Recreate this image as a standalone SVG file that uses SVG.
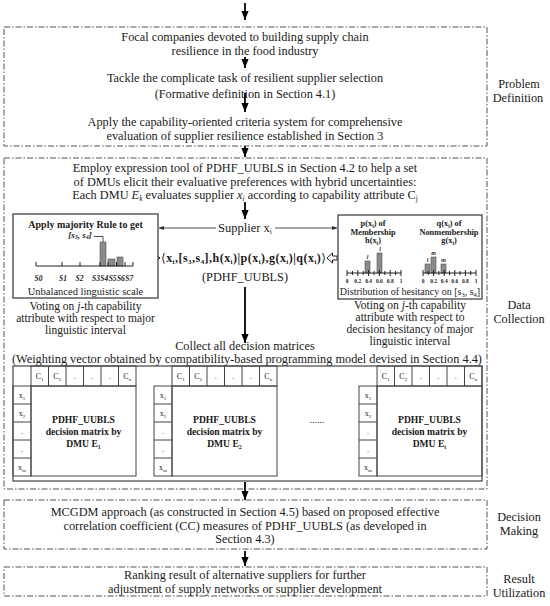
<svg xmlns="http://www.w3.org/2000/svg" width="550" height="606" viewBox="0 0 550 606">
<style>
text { font-family: "Liberation Serif", "DejaVu Serif", serif; fill: #1a1a1a; }
.m { font-size: 12.3px; text-anchor: middle; }
.lab { font-size: 12.3px; text-anchor: middle; }
.dd { fill: none; stroke: #555; stroke-width: 1; stroke-dasharray: 6 2 1.5 2; }
.bx { fill: #fff; stroke: #444; stroke-width: 1.3; }
.cell { fill: none; stroke: #444; stroke-width: 1; }
.bar { fill: #8a8a8a; stroke: #555; stroke-width: 0.6; }
.ar { stroke: #000; stroke-width: 1.8; fill: none; marker-end: url(#ah); }
.thin { stroke: #222; stroke-width: 0.8; fill: none; }
.ax { stroke: #222; stroke-width: 1; fill: none; }
.b10 { font-size: 10px; font-weight: bold; text-anchor: middle; }
.b8 { font-size: 8.3px; font-weight: bold; text-anchor: middle; }
.tk { font-size: 5.5px; font-weight: bold; text-anchor: middle; }
.sl { font-size: 7.5px; font-weight: bold; font-style: italic; text-anchor: middle; }
.hl { font-size: 6px; font-style: italic; font-weight: bold; text-anchor: middle; }
.s10 { font-size: 10px; text-anchor: middle; }
.v { font-size: 11.5px; text-anchor: middle; }
.ch { font-size: 8px; text-anchor: middle; }
.mb { font-size: 9.6px; font-weight: bold; text-anchor: middle; }
</style>
<defs>
<marker id="ah" viewBox="0 0 10 8" refX="10" refY="4" markerWidth="5" markerHeight="4" orient="auto" markerUnits="strokeWidth">
<path d="M0,0 L10,4 L0,8 z" fill="#000"/>
</marker>
<marker id="sh" viewBox="0 0 10 8" refX="10" refY="4" markerWidth="6" markerHeight="5" orient="auto" markerUnits="strokeWidth">
<path d="M0,0 L10,4 L0,8 z" fill="#222"/>
</marker>
</defs>

<g id="connectors">
<line class="ar" x1="245" y1="3" x2="245" y2="20"/>
<line class="ar" x1="245" y1="57" x2="245" y2="68"/>
<line class="ar" x1="245" y1="93" x2="245" y2="112"/>
<line class="ar" x1="245" y1="146" x2="245" y2="157"/>
<line class="ar" x1="245" y1="202" x2="245" y2="219"/>
<line class="ar" x1="245" y1="287" x2="245" y2="343"/>
<line class="ar" x1="245" y1="482" x2="245" y2="500"/>
<line class="ar" x1="245" y1="551" x2="245" y2="566"/>
<line class="thin" x1="216" y1="228" x2="159" y2="228" marker-end="url(#sh)"/>
<line class="thin" x1="275" y1="228" x2="337" y2="228" marker-end="url(#sh)"/>
<path d="M150,256 H154.5 V253 L160,258 L154.5,263 V260 H150 Z" fill="#fff" stroke="#222" stroke-width="1"/>
<path d="M337,256 H332.5 V253 L327,258 L332.5,263 V260 H337 Z" fill="#fff" stroke="#222" stroke-width="1"/>
</g>

<g id="problem-definition">
<rect class="dd" x="4" y="27" width="483" height="119"/>
<text class="m" x="245" y="41">Focal companies devoted to building supply chain</text>
<text class="m" x="245" y="54.5">resilience in the food industry</text>
<text class="m" x="245" y="82">Tackle the complicate task of resilient supplier selection</text>
<text class="m" x="245" y="98">(Formative definition in Section 4.1)</text>
<text class="m" x="245" y="126">Apply the capability-oriented criteria system for comprehensive</text>
<text class="m" x="245" y="140">evaluation of supplier resilience established in Section 3</text>
<text class="lab" x="519" y="88">Problem</text>
<text class="lab" x="518" y="102">Definition</text>
</g>

<g id="data-collection">
<rect class="dd" x="4" y="158" width="483" height="331"/>
<text class="m" x="245" y="172">Employ expression tool of PDHF_UUBLS in Section 4.2 to help a set</text>
<text class="m" x="245" y="185.5">of DMUs elicit their evaluative preferences with hybrid uncertainties:</text>
<text class="m" x="245" y="199">Each DMU <tspan font-style="italic">E</tspan><tspan font-size="7.5" font-style="italic" dy="2">k</tspan><tspan dy="-2"> evaluates supplier </tspan><tspan font-style="italic">x</tspan><tspan font-size="7.5" font-style="italic" dy="2">i</tspan><tspan dy="-2"> according to capability attribute C</tspan><tspan font-size="7.5" dy="2">j</tspan></text>
<text x="245" y="232" font-size="12.5" text-anchor="middle">Supplier x<tspan font-size="7.5" dy="2">i</tspan></text>
<text x="161" y="262" font-size="12" font-weight="bold" textLength="165" lengthAdjust="spacing"><tspan font-family="DejaVu Serif" font-weight="normal">⟨</tspan>x<tspan font-size="7" dy="2">i</tspan><tspan dy="-2">,[s</tspan><tspan font-size="7" dy="2">3</tspan><tspan dy="-2">,s</tspan><tspan font-size="7" dy="2">4</tspan><tspan dy="-2">],h(x</tspan><tspan font-size="7" dy="2">i</tspan><tspan dy="-2">)|p(x</tspan><tspan font-size="7" dy="2">i</tspan><tspan dy="-2">),g(x</tspan><tspan font-size="7" dy="2">i</tspan><tspan dy="-2">)|q(x</tspan><tspan font-size="7" dy="2">i</tspan><tspan dy="-2">)</tspan><tspan font-family="DejaVu Serif" font-weight="normal">⟩</tspan></text>
<text class="m" x="245" y="281">(PDHF_UUBLS)</text>
<text class="m" x="245" y="350">Collect all decision matrices</text>
<text class="m" x="247" y="363">(Weighting vector obtained by compatibility-based programming model devised in Section 4.4)</text>
<text class="lab" x="519" y="309">Data</text>
<text class="lab" x="519" y="323">Collection</text>
</g>

<g id="linguistic-scale">
<rect class="bx" x="13" y="214" width="145" height="84"/>
<text class="b10" x="85.5" y="228">Apply majority Rule to get</text>
<text x="80" y="237.5" font-size="9" font-weight="bold" font-style="italic" text-anchor="middle">[s<tspan font-size="6" dy="1.5">3</tspan><tspan dy="-1.5">, s</tspan><tspan font-size="6" dy="1.5">4</tspan><tspan dy="-1.5">]</tspan></text>
<path class="thin" d="M94,236.5 H103 V242"/>
<rect class="bar" x="100" y="242" width="6" height="24"/>
<rect class="bar" x="108" y="259" width="7" height="7"/>
<rect class="bar" x="117" y="257" width="6" height="9"/>
<path class="ax" d="M36,266 H133 M36,262 V266 M62,262 V266 M80,262 V266 M100,262 V266 M108,262 V266 M116.5,262 V266 M125,262 V266 M133,262 V266"/>
<text class="sl" x="38.5" y="281">S0</text>
<text class="sl" x="63" y="281">S1</text>
<text class="sl" x="79.5" y="281">S2</text>
<text class="sl" x="96" y="281">S3</text>
<text class="sl" x="104.3" y="281">S4</text>
<text class="sl" x="112.6" y="281">S5</text>
<text class="sl" x="120.9" y="281">S6</text>
<text class="sl" x="129.2" y="281">S7</text>
<text x="85.5" y="295" font-size="10.5" text-anchor="middle">Unbalanced linguistic scale</text>
<text class="v" x="85.5" y="310">Voting on <tspan font-style="italic">j</tspan>-th capability</text>
<text class="v" x="85.5" y="322">attribute with respect to major</text>
<text class="v" x="85.5" y="334">linguistic interval</text>
</g>

<g id="hesitancy">
<rect class="bx" x="338" y="215" width="144" height="84"/>
<text class="b8" x="373" y="226">p(x<tspan font-size="5.5" dy="1.5">i</tspan><tspan dy="-1.5">) of</tspan></text>
<text class="b8" x="373" y="234.5">Membership</text>
<text class="b8" x="373" y="243">h(x<tspan font-size="5.5" dy="1.5">i</tspan><tspan dy="-1.5">)</tspan></text>
<text class="b8" x="449" y="226">q(x<tspan font-size="5.5" dy="1.5">i</tspan><tspan dy="-1.5">) of</tspan></text>
<text class="b8" x="449" y="234.5">Nonmembership</text>
<text class="b8" x="449" y="243">g(x<tspan font-size="5.5" dy="1.5">i</tspan><tspan dy="-1.5">)</tspan></text>
<rect class="bar" x="365" y="261" width="5" height="12"/>
<rect class="bar" x="377" y="253" width="5" height="20"/>
<text class="hl" x="367.5" y="259">l</text>
<text class="hl" x="380" y="251">l</text>
<rect class="bar" x="425" y="264" width="5" height="9"/>
<rect class="bar" x="431" y="257" width="5" height="16"/>
<rect class="bar" x="441" y="264" width="5" height="9"/>
<text class="hl" x="427.5" y="262">l</text>
<text class="hl" x="433.5" y="255">m</text>
<text class="hl" x="443.5" y="262">m</text>
<path class="ax" d="M347,273 H401 M347,270 V276 M352.4,271 V275 M357.8,270 V276 M363.2,271 V275 M368.6,270 V276 M374,271 V275 M379.4,270 V276 M384.8,271 V275 M390.2,270 V276 M395.6,271 V275 M401,270 V276"/>
<path class="ax" d="M423,273 H476 M423,270 V276 M428.3,271 V275 M433.6,270 V276 M438.9,271 V275 M444.2,270 V276 M449.5,271 V275 M454.8,270 V276 M460.1,271 V275 M465.4,270 V276 M470.7,271 V275 M476,270 V276"/>
<text class="tk" x="347" y="283">0</text>
<text class="tk" x="357.8" y="283">0.2</text>
<text class="tk" x="368.6" y="283">0.4</text>
<text class="tk" x="379.4" y="283">0.6</text>
<text class="tk" x="390.2" y="283">0.8</text>
<text class="tk" x="401" y="283">1</text>
<text class="tk" x="423" y="283">0</text>
<text class="tk" x="433.6" y="283">0.2</text>
<text class="tk" x="444.2" y="283">0.4</text>
<text class="tk" x="454.8" y="283">0.6</text>
<text class="tk" x="465.4" y="283">0.8</text>
<text class="tk" x="476" y="283">1</text>
<text class="s10" x="410" y="295">Distribution of hesitancy on [s<tspan font-size="6.5" dy="1.5">3</tspan><tspan dy="-1.5">, s</tspan><tspan font-size="6.5" dy="1.5">4</tspan><tspan dy="-1.5">]</tspan></text>
<text class="v" x="410" y="309">Voting on <tspan font-style="italic">j</tspan>-th capability</text>
<text class="v" x="410" y="321">attribute with respect to</text>
<text class="v" x="410" y="333">decision hesitancy of major</text>
<text class="v" x="410" y="345">linguistic interval</text>
</g>

<g id="matrices">
<rect x="13" y="366" width="469" height="115" fill="none" stroke="#444" stroke-width="1.2"/>
<g id="matrix-1" transform="translate(13,0)">
<rect class="cell" x="18" y="366" width="105" height="20"/>
<path class="cell" d="M35.5,366 V386 M53,366 V386 M70.5,366 V386 M88,366 V386 M105.5,366 V386"/>
<rect class="cell" x="0" y="386" width="18" height="90"/>
<path class="cell" d="M0,404 H18 M0,422 H18 M0,440 H18 M0,458 H18"/>
<rect class="cell" x="18" y="386" width="105" height="90"/>
<text class="ch" x="26.75" y="379">C<tspan font-size="5" dy="1.5">1</tspan></text>
<text class="ch" x="44.25" y="379">C<tspan font-size="5" dy="1.5">2</tspan></text>
<text class="ch" x="61.75" y="379">.</text>
<text class="ch" x="79.25" y="379">.</text>
<text class="ch" x="96.75" y="379">.</text>
<text class="ch" x="114.25" y="379">C<tspan font-size="5" dy="1.5">n</tspan></text>
<text class="ch" x="9" y="398">x<tspan font-size="5" dy="1.5">1</tspan></text>
<text class="ch" x="9" y="416">x<tspan font-size="5" dy="1.5">2</tspan></text>
<text class="ch" x="9" y="434">.</text>
<text class="ch" x="9" y="452">.</text>
<text class="ch" x="9" y="470">x<tspan font-size="5" dy="1.5">m</tspan></text>
<text class="mb" x="70.5" y="423">PDHF_UUBLS</text>
<text class="mb" x="70.5" y="435">decision matrix by</text>
<text class="mb" x="70.5" y="447">DMU E<tspan font-size="6" dy="1.5">1</tspan></text>
</g>
<g id="matrix-2" transform="translate(154,0)">
<rect class="cell" x="18" y="366" width="105" height="20"/>
<path class="cell" d="M35.5,366 V386 M53,366 V386 M70.5,366 V386 M88,366 V386 M105.5,366 V386"/>
<rect class="cell" x="0" y="386" width="18" height="90"/>
<path class="cell" d="M0,404 H18 M0,422 H18 M0,440 H18 M0,458 H18"/>
<rect class="cell" x="18" y="386" width="105" height="90"/>
<text class="ch" x="26.75" y="379">C<tspan font-size="5" dy="1.5">1</tspan></text>
<text class="ch" x="44.25" y="379">C<tspan font-size="5" dy="1.5">2</tspan></text>
<text class="ch" x="61.75" y="379">.</text>
<text class="ch" x="79.25" y="379">.</text>
<text class="ch" x="96.75" y="379">.</text>
<text class="ch" x="114.25" y="379">C<tspan font-size="5" dy="1.5">n</tspan></text>
<text class="ch" x="9" y="398">x<tspan font-size="5" dy="1.5">1</tspan></text>
<text class="ch" x="9" y="416">x<tspan font-size="5" dy="1.5">2</tspan></text>
<text class="ch" x="9" y="434">.</text>
<text class="ch" x="9" y="452">.</text>
<text class="ch" x="9" y="470">x<tspan font-size="5" dy="1.5">m</tspan></text>
<text class="mb" x="70.5" y="423">PDHF_UUBLS</text>
<text class="mb" x="70.5" y="435">decision matrix by</text>
<text class="mb" x="70.5" y="447">DMU E<tspan font-size="6" dy="1.5">2</tspan></text>
</g>
<text x="317" y="423" font-size="10" text-anchor="middle">......</text>
<g id="matrix-3" transform="translate(359,0)">
<rect class="cell" x="18" y="366" width="105" height="20"/>
<path class="cell" d="M35.5,366 V386 M53,366 V386 M70.5,366 V386 M88,366 V386 M105.5,366 V386"/>
<rect class="cell" x="0" y="386" width="18" height="90"/>
<path class="cell" d="M0,404 H18 M0,422 H18 M0,440 H18 M0,458 H18"/>
<rect class="cell" x="18" y="386" width="105" height="90"/>
<text class="ch" x="26.75" y="379">C<tspan font-size="5" dy="1.5">1</tspan></text>
<text class="ch" x="44.25" y="379">C<tspan font-size="5" dy="1.5">2</tspan></text>
<text class="ch" x="61.75" y="379">.</text>
<text class="ch" x="79.25" y="379">.</text>
<text class="ch" x="96.75" y="379">.</text>
<text class="ch" x="114.25" y="379">C<tspan font-size="5" dy="1.5">n</tspan></text>
<text class="ch" x="9" y="398">x<tspan font-size="5" dy="1.5">1</tspan></text>
<text class="ch" x="9" y="416">x<tspan font-size="5" dy="1.5">2</tspan></text>
<text class="ch" x="9" y="434">.</text>
<text class="ch" x="9" y="452">.</text>
<text class="ch" x="9" y="470">x<tspan font-size="5" dy="1.5">m</tspan></text>
<text class="mb" x="70.5" y="423">PDHF_UUBLS</text>
<text class="mb" x="70.5" y="435">decision matrix by</text>
<text class="mb" x="70.5" y="447">DMU E<tspan font-size="6" dy="1.5">t</tspan></text>
</g>
</g>

<g id="decision-making">
<rect class="dd" x="4" y="500" width="483" height="49"/>
<text class="m" x="245" y="516">MCGDM approach (as constructed in Section 4.5) based on proposed effective</text>
<text class="m" x="245" y="530">correlation coefficient (CC) measures of PDHF_UUBLS (as developed in</text>
<text class="m" x="245" y="543">Section 4.3)</text>
<text class="lab" x="519" y="521">Decision</text>
<text class="lab" x="519" y="535">Making</text>
</g>

<g id="result-utilization">
<rect class="dd" x="4" y="567" width="483" height="29"/>
<text class="m" x="245" y="579">Ranking result of alternative suppliers for further</text>
<text class="m" x="245" y="593">adjustment of supply networks or supplier development</text>
<text class="lab" x="519" y="583">Result</text>
<text class="lab" x="519" y="597">Utilization</text>
</g>
</svg>
